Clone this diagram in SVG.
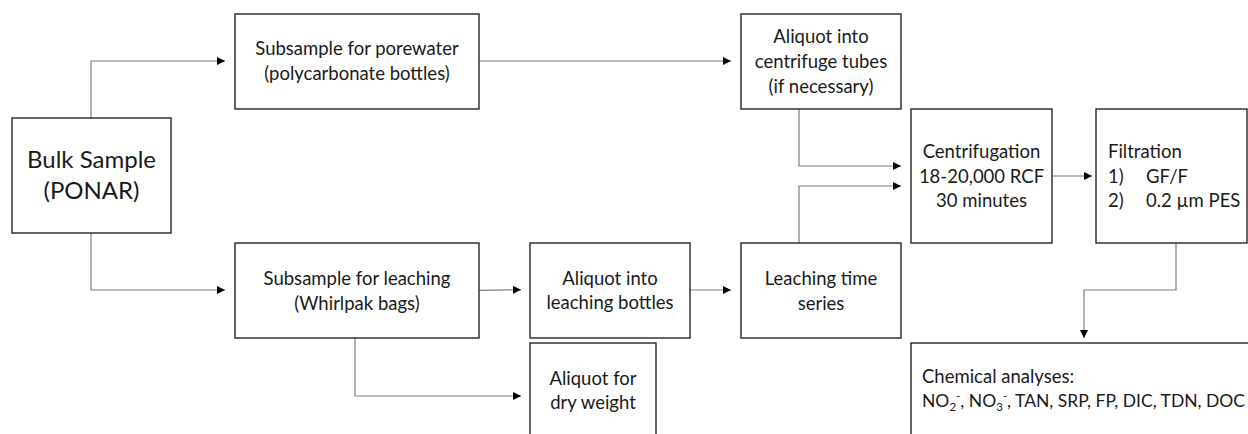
<svg xmlns="http://www.w3.org/2000/svg" width="1248" height="434" viewBox="0 0 1248 434">
<defs>
<style>
.box{fill:#fff;stroke:#262626;stroke-width:1.4}
.t{font-family:Lato,"Open Sans",sans-serif;font-size:18.5px;fill:#1a1a1a;text-anchor:middle}
.l{text-anchor:start}
.big{font-size:24px}
.c{fill:none;stroke:#7f7f7f;stroke-width:1.2}
</style>
<marker id="ah" viewBox="0 0 10 10" refX="10" refY="5" markerWidth="8" markerHeight="8" markerUnits="userSpaceOnUse" orient="auto">
<path d="M0,0 L10,5 L0,10 z" fill="#000"/>
</marker>
</defs>
<rect width="1248" height="434" fill="#fff"/>
<g id="connectors">
<path class="c" d="M91,118 V61 H225" marker-end="url(#ah)"/>
<path class="c" d="M91,233 V290 H225" marker-end="url(#ah)"/>
<path class="c" d="M479,61 H731" marker-end="url(#ah)"/>
<path class="c" d="M479,290.3 L521,289.7" marker-end="url(#ah)"/>
<path class="c" d="M355,338 V396 H521" marker-end="url(#ah)"/>
<path class="c" d="M690,290 H731" marker-end="url(#ah)"/>
<path class="c" d="M799,109 V166 H901" marker-end="url(#ah)"/>
<path class="c" d="M799,243 V186 H901" marker-end="url(#ah)"/>
<path class="c" d="M1052,176 H1092" marker-end="url(#ah)"/>
<path class="c" d="M1176,243 V290 H1084 V338" marker-end="url(#ah)"/>
</g>
<g id="bulk">
<rect class="box" x="12" y="118" width="159" height="115"/>
<text class="t big" x="91.5" y="168">Bulk Sample</text>
<text class="t big" x="91.5" y="199">(PONAR)</text>
</g>
<g id="porewater">
<rect class="box" x="235" y="14" width="244" height="95"/>
<text class="t" x="357" y="55">Subsample for porewater</text>
<text class="t" x="357" y="80">(polycarbonate bottles)</text>
</g>
<g id="leaching">
<rect class="box" x="235" y="243" width="244" height="95"/>
<text class="t" x="357" y="285">Subsample for leaching</text>
<text class="t" x="357" y="310">(Whirlpak bags)</text>
</g>
<g id="drywt">
<rect class="box" x="530" y="343" width="126" height="100"/>
<text class="t" x="593" y="385">Aliquot for</text>
<text class="t" x="593" y="409">dry weight</text>
</g>
<g id="leachbottles">
<rect class="box" x="530" y="243" width="160" height="95"/>
<text class="t" x="610" y="285">Aliquot into</text>
<text class="t" x="610" y="309">leaching bottles</text>
</g>
<g id="timeseries">
<rect class="box" x="741" y="243" width="160" height="95"/>
<text class="t" x="821" y="285">Leaching time</text>
<text class="t" x="821" y="310">series</text>
</g>
<g id="tubes">
<rect class="box" x="741" y="14" width="160" height="95"/>
<text class="t" x="821" y="43">Aliquot into</text>
<text class="t" x="821" y="68">centrifuge tubes</text>
<text class="t" x="821" y="93">(if necessary)</text>
</g>
<g id="centrifugation">
<rect class="box" x="911" y="109" width="141" height="134"/>
<text class="t" x="981.5" y="158">Centrifugation</text>
<text class="t" x="981.5" y="183">18-20,000 RCF</text>
<text class="t" x="981.5" y="207">30 minutes</text>
</g>
<g id="filtration">
<rect class="box" x="1096" y="109" width="151" height="134"/>
<text class="t l" x="1108" y="158">Filtration</text>
<text class="t l" x="1108" y="183">1)</text>
<text class="t l" x="1146" y="183">GF/F</text>
<text class="t l" x="1108" y="207">2)</text>
<text class="t l" x="1146" y="207">0.2 µm PES</text>
</g>
<g id="chemical">
<rect class="box" x="911" y="343" width="345" height="100"/>
<text class="t l" x="922" y="383">Chemical analyses:</text>
<text class="t l" x="922" y="407" style="font-size:17.5px">NO<tspan font-size="11.5" dy="4">2</tspan><tspan font-size="11.5" dy="-11">-</tspan><tspan dy="7">, NO</tspan><tspan font-size="11.5" dy="4">3</tspan><tspan font-size="11.5" dy="-11">-</tspan><tspan dy="7">, TAN, SRP, FP, DIC, TDN, DOC</tspan></text>
</g>
</svg>
